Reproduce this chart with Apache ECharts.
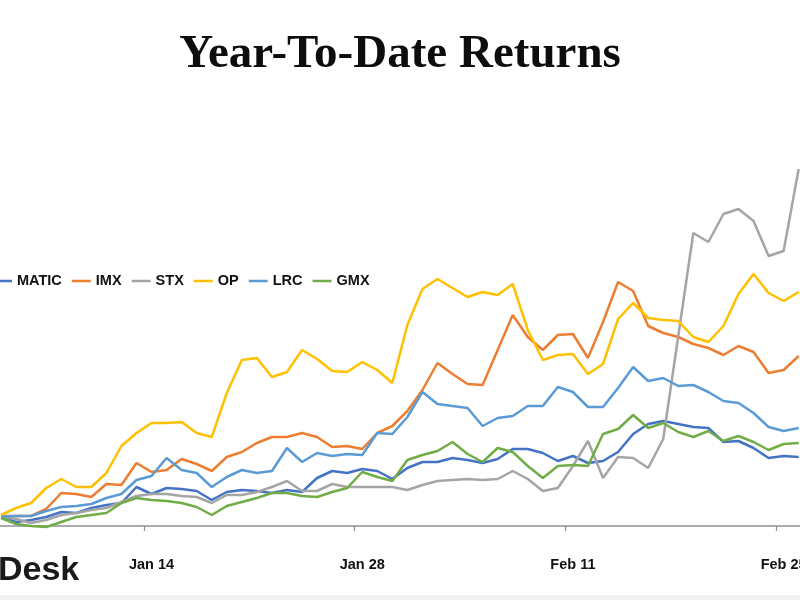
<!DOCTYPE html>
<html>
<head>
<meta charset="utf-8">
<script src="https://cdn.jsdelivr.net/npm/echarts@6/dist/echarts.min.js"></script>
<style>
html,body{margin:0;padding:0;background:#ffffff;}
#chart{width:800px;height:600px;}
</style>
</head>
<body>
<div id="chart"></div>
<script>
// Categories (daily)
const dates = [
  'Jan 4','Jan 5','Jan 6','Jan 7','Jan 8','Jan 9','Jan 10','Jan 11','Jan 12','Jan 13',
  'Jan 14','Jan 15','Jan 16','Jan 17','Jan 18','Jan 19','Jan 20','Jan 21','Jan 22','Jan 23',
  'Jan 24','Jan 25','Jan 26','Jan 27','Jan 28','Jan 29','Jan 30','Jan 31',
  'Feb 1','Feb 2','Feb 3','Feb 4','Feb 5','Feb 6','Feb 7','Feb 8','Feb 9','Feb 10',
  'Feb 11','Feb 12','Feb 13','Feb 14','Feb 15','Feb 16','Feb 17','Feb 18','Feb 19','Feb 20',
  'Feb 21','Feb 22','Feb 23','Feb 24','Feb 25','Feb 26'
];
const tickLabels = ['Jan 14','Jan 28','Feb 11','Feb 25'];

// Year-to-date returns (%)
const MATIC = [9,4,6,9,14,13,18,21,23,39, 32,38,37,35,26,34,36,35,33,36, 34,48,55,53,57,55,47,58,
  64,64, 68,66,63,67,77,77,73,65,70,63, 65,74,92,102,105,102,99,98,84,85, 78,68,70,69];
const IMX = [10,10,10,17,33,32,29,42,41,63, 54,56,67,62,55,69,74,83,89,89, 93,89,79,80,77,93,100,115,
  136,163, 152,142,141,176,211,189,176,191,192,168, 204,244,235,200,193,189,182,178,171,180, 174,153,156,170];
const STX = [9,7,3,6,11,13,16,18,24,30, 32,32,30,29,23,31,31,34,39,45, 35,35,42,39,39,39,39,36,
  41,45, 46,47,46,47,55,47,35,38,60,85, 48,69,68,58,87,190,293,284,312,317, 305,270,275,357];
const OP = [11,18,23,38,47,39,39,53,80,93, 103,103,104,93,89,133,166,168,149,154, 176,167,155,154,164,156,143,201,
  237,247, 238,229,234,231,242,196,166,171,172,152, 162,207,223,208,206,205,189,184,200,232, 252,233,225,234];
const LRC = [9,10,10,15,19,20,22,28,32,46, 50,68,56,53,39,49,56,53,55,78, 64,73,70,72,71,93,92,109,
  134,122, 120,118,100,108,110,120,120,139,134,119, 119,138,159,145,148,140,141,134,125,123, 113,99,95,98];
const GMX = [8,2,0,-1,4,9,11,13,23,28, 26,25,23,19,11,20,24,28,33,33, 30,29,34,38,54,49,45,66,
  71,75, 84,72,64,78,74,60,48,60,61,60, 92,97,111,98,103,94,89,95,85,90, 84,76,82,83];

const seriesNames = ['MATIC','IMX','STX','OP','LRC','GMX'];
const seriesData = [MATIC, IMX, STX, OP, LRC, GMX];
const colors = ['#4472C4','#ED7D31','#A5A5A5','#FFC000','#5B9BD5','#70AD47'];

const chart = echarts.init(document.getElementById('chart'), null, {renderer: 'canvas'});
const band = 15.05;

const option = {
  animation: false,
  backgroundColor: '#ffffff',
  title: {
    text: 'Year-To-Date Returns',
    left: 'center',
    top: 26,
    textStyle: {
      fontFamily: 'Liberation Serif',
      fontWeight: 'bold',
      fontSize: 47,
      color: '#0d0d0d'
    }
  },
  legend: {
    data: seriesNames.map(function (n) { return {name: n, icon: 'rect'}; }),
    left: -7,
    top: 273,
    padding: 0,
    itemWidth: 19,
    itemHeight: 2.5,
    itemGap: 10,
    textStyle: {
      fontFamily: 'Liberation Sans',
      fontWeight: 'bold',
      fontSize: 14.5,
      color: '#111111',
      lineHeight: 16
    }
  },
  grid: {
    left: 144 - 10 * band,
    width: dates.length * band,
    top: 126,
    bottom: 54,
    containLabel: false,
    outerBoundsMode: 'none'
  },
  xAxis: {
    type: 'category',
    data: dates,
    boundaryGap: true,
    axisLine: {show: true, onZero: true, lineStyle: {color: '#8f8f8f', width: 1.5}},
    axisTick: {
      show: true,
      length: 5,
      interval: function (i, v) { return tickLabels.indexOf(v) >= 0; },
      lineStyle: {color: '#8f8f8f', width: 1.2}
    },
    axisLabel: {
      interval: function (i, v) { return tickLabels.indexOf(v) >= 0; },
      margin: 11,
      fontFamily: 'Liberation Sans',
      fontWeight: 'bold',
      fontSize: 14.5,
      color: '#111111'
    },
    splitLine: {show: false}
  },
  yAxis: {
    type: 'value',
    show: false,
    min: -20,
    max: 400,
    splitLine: {show: false}
  },
  series: seriesNames.map(function (name, k) {
    return {
      name: name,
      type: 'line',
      data: seriesData[k],
      symbol: 'none',
      smooth: false,
      color: colors[k],
      itemStyle: {color: colors[k]},
      lineStyle: {color: colors[k], width: 2.5},
      emphasis: {disabled: true}
    };
  }),
  graphic: [
    {
      type: 'text',
      left: -2,
      top: 554,
      style: {
        text: 'Desk',
        font: 'bold 34px "Liberation Sans"',
        fill: '#1a1a1a'
      }
    },
    {
      type: 'rect',
      shape: {x: 0, y: 595, width: 800, height: 5},
      style: {fill: '#f1f1f1'}
    }
  ]
};
chart.setOption(option);
</script>
</body>
</html>
